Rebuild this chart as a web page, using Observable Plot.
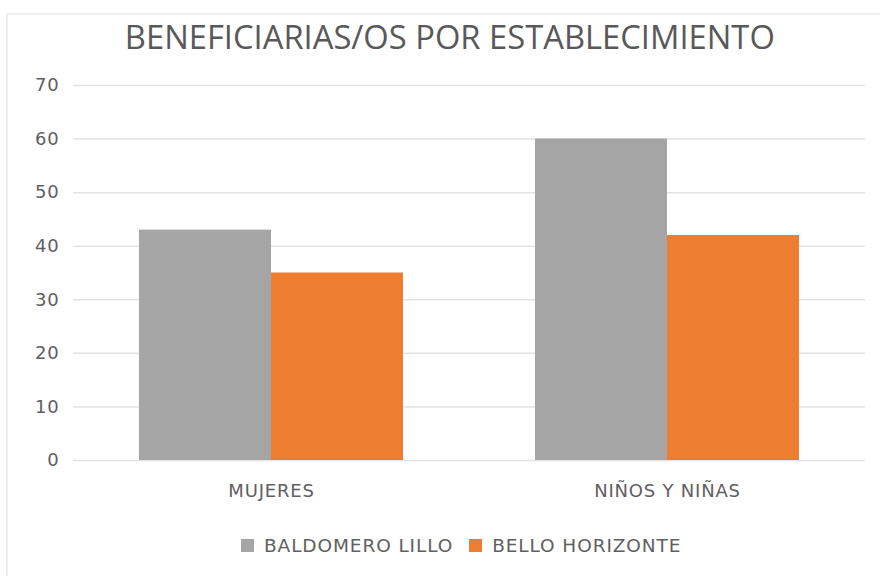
<!DOCTYPE html>
<html>
<head>
<meta charset="utf-8">
<script src="https://cdn.jsdelivr.net/npm/d3@7"></script>
<script src="https://cdn.jsdelivr.net/npm/@observablehq/plot@0.6"></script>
<style>
  html, body { margin: 0; padding: 0; background: #fff; }
  #wrap { position: relative; width: 880px; height: 576px; overflow: hidden; background: #fff; font-family: "DejaVu Sans", sans-serif; }
  #frame { position: absolute; left: 6px; top: 13px; width: 900px; height: 600px; border-left: 2px solid #efefef; border-top: 2px solid #efefef; }
  #title { position: absolute; left: 0; top: 14px; width: 900px; text-align: center; font-family: "Open Sans", sans-serif; font-size: 33px; font-weight: 400; color: #595959; white-space: nowrap; }
  #title span { display: inline-block; transform-origin: center; }
  #chart { position: absolute; left: 0; top: 70px; }
  #chart svg text { letter-spacing: 0.8px; }
  #legend { position: absolute; top: 535px; left: 241px; display: flex; font-size: 18.5px; letter-spacing: 0.9px; color: #606060; }
  .item { display: flex; align-items: center; margin-right: 16px; }
  .sw { width: 13px; height: 13px; margin-right: 10px; }
</style>
</head>
<body>
<div id="wrap">
  <div id="frame"></div>
  <div id="title"><span>BENEFICIARIAS/OS POR ESTABLECIMIENTO</span></div>
  <div id="chart"></div>
  <div id="legend"></div>
</div>
<script>
const categories = ["MUJERES", "NIÑOS Y NIÑAS"];
const series = ["BALDOMERO LILLO", "BELLO HORIZONTE"];
const baldomeroLillo = [43, 60];
const belloHorizonte = [35, 42];
const colors = ["#A5A5A5", "#ED7D31"];
const yTicks = [0, 10, 20, 30, 40, 50, 60, 70];

const data = [];
categories.forEach((c, i) => {
  data.push({category: c, series: series[0], value: baldomeroLillo[i]});
  data.push({category: c, series: series[1], value: belloHorizonte[i]});
});

const plot = Plot.plot({
  width: 880,
  height: 445,
  marginLeft: 72,
  marginRight: 15,
  marginTop: 15,
  marginBottom: 55,
  style: {fontFamily: "'DejaVu Sans', sans-serif", fontSize: "18px", color: "#606060", background: "transparent"},
  fx: {domain: categories, padding: 0, label: null, axis: null},
  x: {domain: series, paddingInner: 0, paddingOuter: 0.5, axis: null},
  y: {domain: [0, 70], ticks: yTicks, label: null},
  color: {domain: series, range: colors},
  marks: [
    Plot.ruleY(yTicks, {stroke: "#e3e3e3", strokeWidth: 1.5}),
    Plot.barY(data, {fx: "category", x: "series", y: "value", fill: "series"}),
    Plot.axisY({ticks: yTicks, tickSize: 0, tickPadding: 14, fill: "#606060", fontSize: 18}),
    Plot.axisFx({anchor: "bottom", domain: categories, tickSize: 0, tickPadding: 24, fill: "#606060", fontSize: 18, label: null})
  ]
});
document.getElementById("chart").appendChild(plot);

const t = document.querySelector("#title span");
const w = t.getBoundingClientRect().width;
t.style.transform = `scaleX(${650 / w})`;

const legend = document.getElementById("legend");
series.forEach((s, i) => {
  const it = document.createElement("div");
  it.className = "item";
  const sw = document.createElement("div");
  sw.className = "sw";
  sw.style.background = colors[i];
  const lb = document.createElement("span");
  lb.textContent = s;
  it.appendChild(sw);
  it.appendChild(lb);
  legend.appendChild(it);
});
</script>
</body>
</html>
